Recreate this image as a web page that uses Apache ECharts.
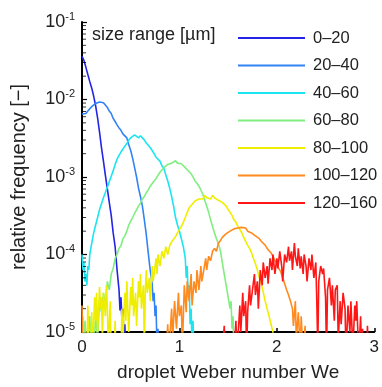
<!DOCTYPE html>
<html>
<head>
<meta charset="utf-8">
<script src="https://cdn.jsdelivr.net/npm/echarts@6/dist/echarts.min.js"></script>
<style>
  html, body { margin: 0; padding: 0; background: #fff; }
  #main { width: 382px; height: 387px; }
</style>
</head>
<body>
<div id="main"></div>
<script>
// size classes [µm]
const sizeRanges = ["0–20", "20–40", "40–60", "60–80", "80–100", "100–120", "120–160"];
const lineColors = ["#2424e6", "#3284f5", "#1ce4f0", "#80ee80", "#f0ee00", "#ff8a1e", "#ff1616"];

// [We, relative frequency]
const s0_20 = [[0,3.6e-2],[0.02,3.2e-2],[0.04,2.6e-2],[0.06,2.1e-2],[0.08,1.7e-2],[0.10,1.4e-2],[0.12,1.1e-2],[0.14,8.3e-3],[0.16,5.8e-3],[0.18,3.8e-3],[0.20,2.4e-3],[0.22,1.6e-3],[0.24,1.05e-3],[0.26,7.1e-4],[0.28,4.7e-4],[0.30,3.2e-4],[0.32,1.9e-4],[0.34,1.26e-4],[0.36,6.3e-5],[0.38,3.5e-5],[0.39,1.9e-5],[0.40,2.8e-5],[0.41,1.4e-5],[0.42,2.0e-5],[0.43,8e-6],[0.44,1.26e-5],[0.45,5e-6]];
const s20_40 = [[0,6.5e-3],[0.02,6.3e-3],[0.04,6.6e-3],[0.06,7.1e-3],[0.08,7.6e-3],[0.10,8.1e-3],[0.12,8.5e-3],[0.14,8.9e-3],[0.16,9.1e-3],[0.18,9.3e-3],[0.20,9.1e-3],[0.22,9.1e-3],[0.24,8.5e-3],[0.26,7.9e-3],[0.28,7.1e-3],[0.30,6.6e-3],[0.32,5.7e-3],[0.34,5.2e-3],[0.36,4.7e-3],[0.38,4.3e-3],[0.40,4.0e-3],[0.42,3.6e-3],[0.44,3.4e-3],[0.46,3.2e-3],[0.48,2.6e-3],[0.50,2.2e-3],[0.52,1.74e-3],[0.54,1.32e-3],[0.56,1.0e-3],[0.58,7.2e-4],[0.60,5.6e-4],[0.62,4.2e-4],[0.64,2.8e-4],[0.66,1.8e-4],[0.68,1.05e-4],[0.70,6.3e-5],[0.72,4.2e-5],[0.73,2.5e-5],[0.74,3.2e-5],[0.75,1.6e-5],[0.76,2.2e-5],[0.77,6e-6],[0.78,1.1e-5],[0.79,5e-6]];
const s40_60 = [[0,1.0e-4],[0.01,6.3e-5],[0.02,7.9e-5],[0.03,4.5e-5],[0.04,5.6e-5],[0.05,4.0e-5],[0.06,7.1e-5],[0.07,6.3e-5],[0.08,1.0e-4],[0.10,1.4e-4],[0.12,1.9e-4],[0.14,2.4e-4],[0.16,3.0e-4],[0.18,3.8e-4],[0.20,4.5e-4],[0.22,5.4e-4],[0.24,6.3e-4],[0.26,7.4e-4],[0.28,8.7e-4],[0.30,1.02e-3],[0.32,1.2e-3],[0.34,1.45e-3],[0.36,1.7e-3],[0.38,1.9e-3],[0.40,2.1e-3],[0.42,2.3e-3],[0.44,2.5e-3],[0.46,2.7e-3],[0.48,3.0e-3],[0.50,3.2e-3],[0.52,3.3e-3],[0.54,3.5e-3],[0.56,3.4e-3],[0.58,3.2e-3],[0.60,3.4e-3],[0.62,3.2e-3],[0.64,3.0e-3],[0.66,2.75e-3],[0.68,2.6e-3],[0.70,2.4e-3],[0.72,2.2e-3],[0.74,2.0e-3],[0.76,1.8e-3],[0.78,1.74e-3],[0.80,1.6e-3],[0.82,1.4e-3],[0.84,1.3e-3],[0.86,1.07e-3],[0.88,8.9e-4],[0.90,7.2e-4],[0.92,5.6e-4],[0.94,4.2e-4],[0.96,3.0e-4],[0.98,2.4e-4],[1.00,2.0e-4],[1.02,1.6e-4],[1.04,1.26e-4],[1.06,8.9e-5],[1.07,5.0e-5],[1.08,7.1e-5],[1.09,2.8e-5],[1.10,4.0e-5],[1.11,1.26e-5],[1.12,2.0e-5],[1.13,6e-6],[1.14,1.4e-5],[1.15,5e-6]];
const s60_80 = [[0.02,5e-6],[0.03,1.4e-5],[0.05,6e-6],[0.08,1.6e-5],[0.10,5e-6],[0.12,6e-6],[0.14,1.6e-5],[0.16,8e-6],[0.18,2.5e-5],[0.20,1.8e-5],[0.22,3.2e-5],[0.24,2.2e-5],[0.26,4.5e-5],[0.28,3.5e-5],[0.30,5.6e-5],[0.32,6.6e-5],[0.34,8.9e-5],[0.36,1.0e-4],[0.38,1.2e-4],[0.40,1.3e-4],[0.42,1.6e-4],[0.44,1.74e-4],[0.46,2.0e-4],[0.48,2.4e-4],[0.50,2.7e-4],[0.52,3.0e-4],[0.54,3.4e-4],[0.56,3.6e-4],[0.58,4.2e-4],[0.60,4.6e-4],[0.62,5.2e-4],[0.64,5.6e-4],[0.66,6.3e-4],[0.68,6.8e-4],[0.70,7.6e-4],[0.72,7.9e-4],[0.74,8.9e-4],[0.76,9.5e-4],[0.78,1.05e-3],[0.80,1.15e-3],[0.82,1.2e-3],[0.84,1.32e-3],[0.86,1.38e-3],[0.88,1.45e-3],[0.90,1.48e-3],[0.92,1.51e-3],[0.94,1.55e-3],[0.96,1.62e-3],[0.98,1.51e-3],[1.00,1.58e-3],[1.02,1.48e-3],[1.04,1.41e-3],[1.06,1.32e-3],[1.08,1.26e-3],[1.10,1.17e-3],[1.12,1.1e-3],[1.14,1.0e-3],[1.16,8.9e-4],[1.18,8.3e-4],[1.20,7.6e-4],[1.22,6.8e-4],[1.24,6.0e-4],[1.26,5.0e-4],[1.28,4.2e-4],[1.30,3.5e-4],[1.32,2.8e-4],[1.34,2.3e-4],[1.36,1.9e-4],[1.38,1.6e-4],[1.40,1.38e-4],[1.42,1.12e-4],[1.44,7.9e-5],[1.46,5.6e-5],[1.48,4.0e-5],[1.50,2.8e-5],[1.52,2.0e-5],[1.53,2.5e-5],[1.54,1.1e-5],[1.55,1.6e-5],[1.56,5e-6]];
const s80_100 = [[0,5e-6],[0.01,1.6e-5],[0.02,5e-6],[0.05,5e-6],[0.06,2.2e-5],[0.07,8e-6],[0.09,5e-6],[0.10,1.8e-5],[0.11,6e-6],[0.13,2.8e-5],[0.14,1.4e-5],[0.15,3.2e-5],[0.16,1.0e-5],[0.18,3.8e-5],[0.19,2.0e-5],[0.20,2.8e-5],[0.21,8e-6],[0.22,3.2e-5],[0.24,1.6e-5],[0.25,4.0e-5],[0.26,2.2e-5],[0.27,6e-6],[0.29,2.5e-5],[0.30,5e-6],[0.33,5e-6],[0.34,1.4e-5],[0.35,5e-6],[0.40,5e-6],[0.41,2.0e-5],[0.42,8e-6],[0.44,3.2e-5],[0.45,1.4e-5],[0.46,4.5e-5],[0.47,2.0e-5],[0.48,1.0e-5],[0.50,3.8e-5],[0.51,2.2e-5],[0.52,5.0e-5],[0.53,1.6e-5],[0.55,3.2e-5],[0.56,1.2e-5],[0.58,4.5e-5],[0.59,2.8e-5],[0.60,5.6e-5],[0.61,2.0e-5],[0.63,4.0e-5],[0.64,6e-6],[0.65,3.5e-5],[0.66,6.3e-5],[0.67,3.2e-5],[0.69,5.0e-5],[0.70,2.5e-5],[0.72,7.1e-5],[0.73,4.5e-5],[0.74,5.6e-5],[0.76,8.9e-5],[0.77,5.6e-5],[0.78,1.0e-4],[0.80,7.1e-5],[0.82,1.1e-4],[0.84,8.9e-5],[0.86,1.26e-4],[0.88,1.0e-4],[0.90,1.3e-4],[0.92,1.45e-4],[0.94,1.4e-4],[0.96,1.7e-4],[0.98,1.9e-4],[1.00,2.1e-4],[1.02,2.3e-4],[1.04,2.6e-4],[1.06,3.0e-4],[1.08,3.5e-4],[1.10,4.0e-4],[1.12,4.3e-4],[1.14,4.5e-4],[1.16,4.9e-4],[1.18,5.0e-4],[1.20,5.2e-4],[1.22,5.5e-4],[1.24,5.2e-4],[1.26,5.8e-4],[1.28,5.4e-4],[1.30,5.6e-4],[1.32,5.2e-4],[1.34,5.8e-4],[1.36,5.4e-4],[1.38,5.5e-4],[1.40,5.0e-4],[1.42,5.2e-4],[1.44,4.7e-4],[1.46,4.5e-4],[1.48,4.2e-4],[1.50,3.8e-4],[1.52,3.5e-4],[1.54,3.2e-4],[1.56,2.8e-4],[1.58,2.6e-4],[1.60,2.3e-4],[1.62,2.1e-4],[1.64,1.9e-4],[1.66,1.66e-4],[1.68,1.48e-4],[1.70,1.32e-4],[1.72,1.2e-4],[1.74,1.05e-4],[1.76,8.9e-5],[1.78,7.6e-5],[1.80,6.3e-5],[1.82,5.0e-5],[1.84,4.2e-5],[1.86,3.3e-5],[1.88,2.5e-5],[1.90,2.0e-5],[1.92,1.6e-5],[1.94,1.26e-5],[1.96,1.0e-5],[1.98,5e-6]];
const s100_120 = [[0,2.2e-5],[0.01,5e-6],[0.86,5e-6],[0.88,1.26e-5],[0.89,5e-6],[0.92,2.0e-5],[0.93,8e-6],[0.95,2.5e-5],[0.97,1.1e-5],[0.99,3.2e-5],[1.00,1.6e-5],[1.02,2.2e-5],[1.03,6e-6],[1.05,4.0e-5],[1.07,1.8e-5],[1.08,4.5e-5],[1.10,2.5e-5],[1.12,5.6e-5],[1.13,2.2e-5],[1.15,4.5e-5],[1.17,3.2e-5],[1.18,6.3e-5],[1.20,3.5e-5],[1.22,7.1e-5],[1.23,4.5e-5],[1.25,6.3e-5],[1.27,8.9e-5],[1.28,6.3e-5],[1.30,9.5e-5],[1.32,8.3e-5],[1.34,1.1e-4],[1.36,1.2e-4],[1.38,1.1e-4],[1.40,1.4e-4],[1.42,1.5e-4],[1.44,1.66e-4],[1.46,1.74e-4],[1.48,1.86e-4],[1.50,1.9e-4],[1.52,2.0e-4],[1.54,2.1e-4],[1.56,2.14e-4],[1.58,2.1e-4],[1.60,2.2e-4],[1.62,2.1e-4],[1.64,2.24e-4],[1.66,2.14e-4],[1.68,2.2e-4],[1.70,2.0e-4],[1.72,2.1e-4],[1.74,1.9e-4],[1.76,1.86e-4],[1.78,1.74e-4],[1.80,1.66e-4],[1.82,1.6e-4],[1.84,1.48e-4],[1.86,1.4e-4],[1.88,1.32e-4],[1.90,1.2e-4],[1.92,1.12e-4],[1.94,1.05e-4],[1.96,9.5e-5],[1.98,8.3e-5],[2.00,7.6e-5],[2.02,6.6e-5],[2.04,6.0e-5],[2.06,5.0e-5],[2.08,4.2e-5],[2.10,3.5e-5],[2.12,3.0e-5],[2.14,2.5e-5],[2.16,2.0e-5],[2.17,1.2e-5],[2.19,2.5e-5],[2.20,8e-6],[2.22,1.8e-5],[2.24,6e-6],[2.25,1.6e-5],[2.27,5e-6],[2.29,1.2e-5],[2.30,5e-6],[2.34,5e-6]];
const s120_160 = [[1.44,5e-6],[1.46,1.2e-5],[1.47,5e-6],[1.56,5e-6],[1.58,1.4e-5],[1.59,5e-6],[1.62,2.2e-5],[1.63,1.0e-5],[1.65,3.2e-5],[1.66,1.6e-5],[1.68,2.5e-5],[1.69,5e-6],[1.70,1.8e-5],[1.72,4.0e-5],[1.73,2.2e-5],[1.75,3.5e-5],[1.77,5.6e-5],[1.78,3.0e-5],[1.80,4.5e-5],[1.81,2.0e-5],[1.83,6.3e-5],[1.85,4.0e-5],[1.86,7.9e-5],[1.88,5.0e-5],[1.90,7.1e-5],[1.91,4.2e-5],[1.93,8.9e-5],[1.95,6.3e-5],[1.96,1.0e-4],[1.98,5.6e-5],[2.00,8.9e-5],[2.01,6.6e-5],[2.03,1.1e-4],[2.05,7.1e-5],[2.06,4.5e-5],[2.08,1.0e-4],[2.10,7.9e-5],[2.12,1.26e-4],[2.13,8.3e-5],[2.15,1.1e-4],[2.16,6.3e-5],[2.18,1.4e-4],[2.19,9.5e-5],[2.21,7.1e-5],[2.22,1.2e-4],[2.24,6.6e-5],[2.25,9.5e-5],[2.27,5.6e-5],[2.28,1.0e-4],[2.30,7.1e-5],[2.31,4.5e-5],[2.33,8.9e-5],[2.35,6.3e-5],[2.36,1.0e-4],[2.38,5.0e-5],[2.40,7.9e-5],[2.41,2.5e-5],[2.42,6e-6],[2.43,4.5e-5],[2.45,7.1e-5],[2.47,5.6e-5],[2.48,6.6e-5],[2.50,2.8e-5],[2.51,5e-6],[2.52,3.5e-5],[2.54,5.0e-5],[2.56,2.2e-5],[2.57,4.0e-5],[2.59,1.4e-5],[2.60,3.5e-5],[2.62,4.0e-5],[2.63,8e-6],[2.65,2.5e-5],[2.66,1.26e-5],[2.68,3.2e-5],[2.70,2.0e-5],[2.71,5e-6],[2.73,2.2e-5],[2.75,1.0e-5],[2.76,2.5e-5],[2.78,6e-6],[2.80,2.2e-5],[2.81,1.4e-5],[2.82,2.5e-5],[2.84,5e-6],[2.86,1.6e-5],[2.87,5e-6],[2.88,1.1e-5],[2.89,5e-6],[2.92,5e-6],[2.93,1.2e-5],[2.94,5e-6]];

const allSeries = [s0_20, s20_40, s40_60, s60_80, s80_100, s100_120, s120_160];
// minor ticks of the log axis (2..9 in each decade)
const yMinorTicks = [2e-5,3e-5,4e-5,5e-5,6e-5,7e-5,8e-5,9e-5,2e-4,3e-4,4e-4,5e-4,6e-4,7e-4,8e-4,9e-4,2e-3,3e-3,4e-3,5e-3,6e-3,7e-3,8e-3,9e-3,2e-2,3e-2,4e-2,5e-2,6e-2,7e-2,8e-2,9e-2];

const font = "Liberation Sans";

const option = {
  backgroundColor: "#fff",
  animation: false,
  textStyle: { fontFamily: font },
  grid: { left: 82, right: 3, top: 22, bottom: 54 },
  legend: {
    orient: "vertical",
    left: 238,
    top: 29,
    padding: 0,
    icon: "rect",
    itemWidth: 67,
    itemHeight: 2,
    itemGap: 9.5,
    textStyle: { fontFamily: font, fontSize: 16.5, color: "#222", lineHeight: 18, padding: [0, 0, 0, 3] },
    data: sizeRanges,
  },
  graphic: [
    {
      type: "text",
      left: 92,
      top: 26,
      style: { text: "size range [µm]", fontFamily: font, fontSize: 18, fill: "#222" },
    },
  ],
  xAxis: {
    type: "value",
    min: 0,
    max: 3,
    interval: 1,
    name: "droplet Weber number We",
    nameLocation: "middle",
    nameGap: 31,
    nameTextStyle: { fontFamily: font, fontSize: 19, color: "#222" },
    axisLine: { lineStyle: { color: "#000", width: 2 } },
    axisTick: { show: true, inside: true, length: 4, lineStyle: { color: "#000", width: 1.5 } },
    axisLabel: { fontFamily: font, fontSize: 17, color: "#222", margin: 7 },
    splitLine: { show: false },
  },
  yAxis: {
    type: "log",
    logBase: 10,
    min: 1e-5,
    max: 1e-1,
    name: "relative frequency [−]",
    nameLocation: "middle",
    nameGap: 53,
    nameTextStyle: { fontFamily: font, fontSize: 20, color: "#222" },
    axisLine: { lineStyle: { color: "#000", width: 2 } },
    axisTick: { show: true, inside: true, length: 5, lineStyle: { color: "#000", width: 1.2 } },
    axisLabel: {
      margin: 7,
      formatter: (v) => "{b|10}{s|" + Math.round(Math.log10(v)) + "}",
      rich: {
        b: { fontFamily: font, fontSize: 18, color: "#222", lineHeight: 22 },
        s: { fontFamily: font, fontSize: 11, color: "#222", verticalAlign: "top", lineHeight: 14 },
      },
    },
    splitLine: { show: false },
  },
  series: allSeries
    .map((d, i) => ({
      name: sizeRanges[i],
      type: "line",
      data: d,
      showSymbol: false,
      clip: true,
      lineStyle: { color: lineColors[i], width: 1.6 },
      itemStyle: { color: lineColors[i] },
    }))
    .concat([
      {
        // minor ticks along the y axis
        name: "minor",
        type: "scatter",
        data: yMinorTicks.map((v) => [0, v]),
        symbol: "rect",
        symbolSize: [3, 1],
        symbolOffset: [2.5, 0],
        itemStyle: { color: "#000" },
        clip: false,
        silent: true,
        z: 5,
      },
    ]),
};

const chart = echarts.init(document.getElementById("main"));
chart.setOption(option);
</script>
</body>
</html>
